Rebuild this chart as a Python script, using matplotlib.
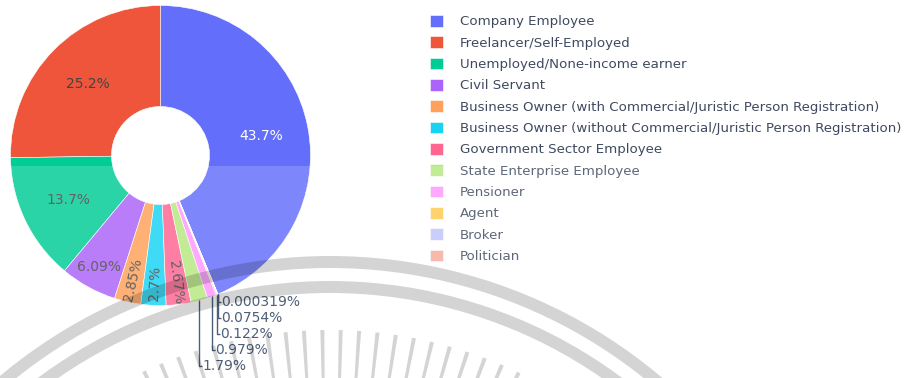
import numpy as np
import matplotlib
matplotlib.use("Agg")
import matplotlib.pyplot as plt
from matplotlib.patches import Rectangle, Wedge, Polygon

# ---- data -------------------------------------------------------------
categories = [
    "Company Employee",
    "Freelancer/Self-Employed",
    "Unemployed/None-income earner",
    "Civil Servant",
    "Business Owner (with Commercial/Juristic Person Registration)",
    "Business Owner (without Commercial/Juristic Person Registration)",
    "Government Sector Employee",
    "State Enterprise Employee",
    "Pensioner",
    "Agent",
    "Broker",
    "Politician",
]
shares = [43.7, 25.2, 13.7, 6.09, 2.85, 2.7, 2.67, 1.79, 0.979, 0.122, 0.0754, 0.000319]

# ---- style ------------------------------------------------------------
colors = ["#636efa", "#ef553b", "#00cc96", "#ab63fa", "#ffa15a", "#19d3f3",
          "#ff6692", "#b6e880", "#ff97ff", "#fecb52", "#c0c5fb", "#f6ab9c"]
inside_text_colors = ["white"] + ["#444444"] * (len(shares) - 1)
font_color = "#2a3f5f"
legend_color = "#3f4a60"

W, H = 912, 378
fig = plt.figure(figsize=(W / 100, H / 100), dpi=100)
ax = fig.add_axes([0, 0, 1, 1])

cx, cy = 160.5, H - 155.5      # pie centre (pixel units, y up)
R, hole = 150.0, 49.0           # outer radius and hole radius
total = sum(shares)
start = 90 - 360 * shares[0] / total

wedges, _ = ax.pie(
    shares, colors=colors, startangle=start, counterclock=True,
    radius=R, center=(cx, cy), frame=True,
    wedgeprops=dict(width=R - hole, linewidth=0.4, edgecolor="white"),
)
ax.set_xlim(0, W)
ax.set_ylim(0, H)
ax.set_aspect("equal")
ax.axis("off")

# ---- slice labels -------------------------------------------------------
outside = []
for i, (w, v) in enumerate(zip(wedges, shares)):
    mid = np.deg2rad((w.theta1 + w.theta2) / 2)
    label = f"{v:.3g}%"
    if v >= 5:
        r = (R + hole) / 2 + 3 if v >= 10 else 0.845 * R
        ax.text(cx + r * np.cos(mid), cy + r * np.sin(mid), label,
                ha="center", va="center", fontsize=10,
                color=inside_text_colors[i], zorder=4)
    elif v >= 2:
        r = 0.85 * R
        rot = np.degrees(mid) % 180
        if rot > 90:
            rot -= 180
        ax.text(cx + r * np.cos(mid), cy + r * np.sin(mid), label,
                ha="center", va="center", rotation=rot,
                rotation_mode="anchor", fontsize=10,
                color=inside_text_colors[i], zorder=4)
    else:
        outside.append((i, mid, label))

# outside labels stacked below the ring, smallest slice on top
outside = outside[::-1]
step = 16
first_y = cy + R * np.sin(outside[0][1]) - 8
for k, (i, mid, label) in enumerate(outside):
    xr = cx + R * np.cos(mid)
    yr = cy + R * np.sin(mid)
    yl = first_y - step * k
    ax.plot([xr, xr, xr + 3], [yr, yl, yl], color=font_color, lw=1.0,
            solid_capstyle="butt", zorder=4)
    ax.text(xr + 3.5, yl, label, ha="left", va="center", fontsize=10,
            color=font_color, zorder=4)

# ---- legend -------------------------------------------------------------
ax.legend(wedges, categories, loc="upper left",
          bbox_to_anchor=(430 / W, 1 - 15 / H), frameon=False,
          fontsize=9.6, labelcolor=legend_color,
          handlelength=0.98, handleheight=0.98, handletextpad=1.28,
          labelspacing=0.59, borderpad=0, borderaxespad=0)

# ---- seal watermark and lightened lower band ---------------------------
ax.add_patch(Rectangle((0, 0), W, H - 166, facecolor="white", alpha=0.17,
                       linewidth=0, zorder=10))

sx, sy = 330, H - 770
shade = dict(facecolor="black", alpha=0.17, linewidth=0, zorder=11)
ax.add_patch(Wedge((sx, sy), 514, 35, 145, width=12, **shade))
ax.add_patch(Wedge((sx, sy), 489, 35, 145, width=12, **shade))
for a in np.arange(-36, 37, 2.4):
    t = np.deg2rad(90 + a + 1.0)
    n = np.array([-np.sin(t), np.cos(t)])
    d = np.array([np.cos(t), np.sin(t)])
    c = np.array([sx, sy])
    p_out = c + 440 * d
    p_in = c + 300 * d
    poly = [p_out + 2.0 * n, p_out - 2.0 * n, p_in - 0.5 * n, p_in + 0.5 * n]
    ax.add_patch(Polygon(poly, closed=True, **shade))

fig.savefig("out.png", dpi=100)
